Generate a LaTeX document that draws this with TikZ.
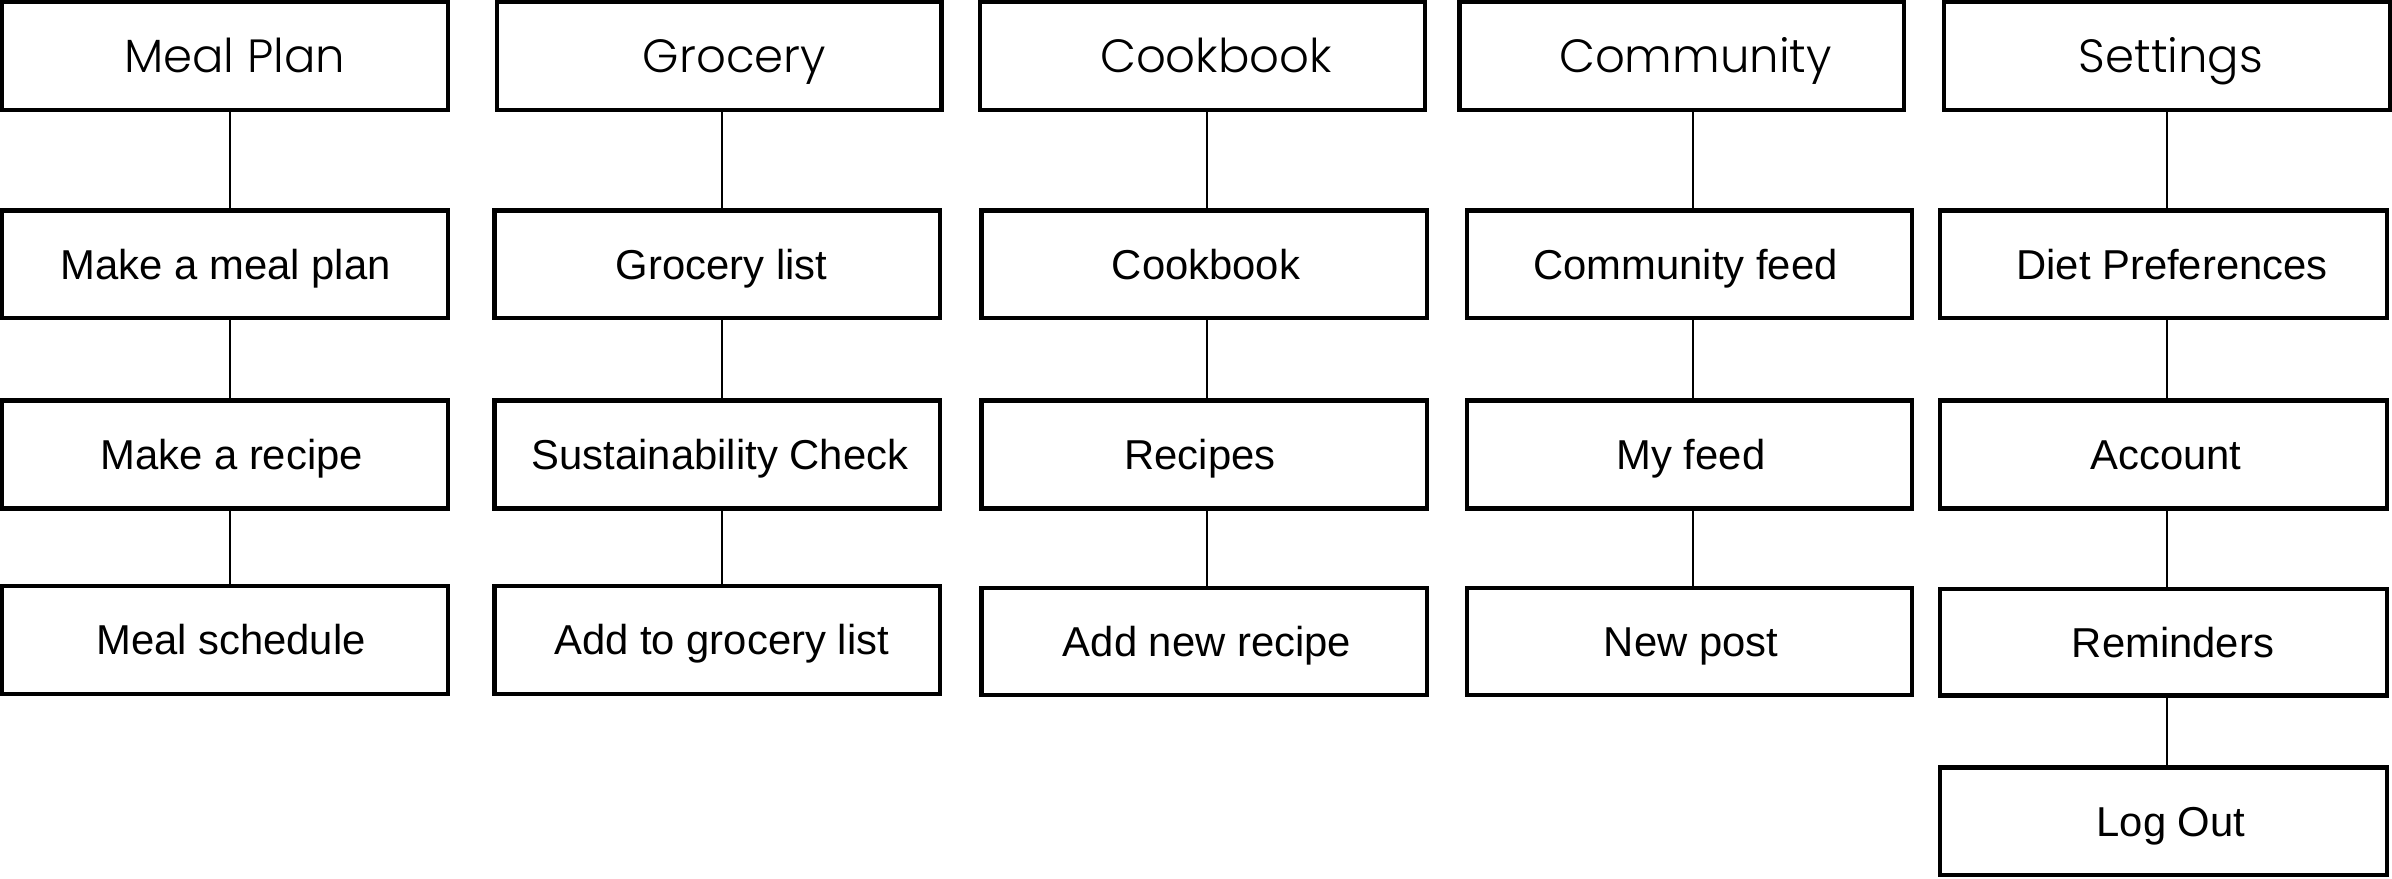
\documentclass[tikz,border=0pt]{standalone}
\usepackage{fontspec}
\setmainfont{Liberation Sans}
\newfontfamily\hfont{Poppins Light}
\newcommand\mybx[8]{%
 \pgfmathsetmacro\bw{(#5-#3)*0.5}%
 \pgfmathsetmacro\bh{(#6-#4)*0.5}%
 \pgfmathsetmacro\bcx{(#3+#5)/2}%
 \pgfmathsetmacro\bcy{(#4+#6)/2}%
 \pgfmathsetmacro\tdx{(#8-\bcx)*0.5}%
 \node[#1, minimum width=\bw pt, minimum height=\bh pt,
   label={[#1lab, xshift=\tdx pt]center:#7}] (#2) at (\bcx,\bcy) {};%
}
\begin{document}
\begin{tikzpicture}[x=0.5pt,y=-0.5pt,
  hd/.style={draw=black, line width=2.1pt, inner sep=0pt, outer sep=0pt},
  ch/.style={draw=black, line width=2.1pt, inner sep=0pt, outer sep=0pt},
  hdlab/.style={font=\hfont\fontsize{23.3}{28}\selectfont, inner sep=0pt, outer sep=0pt, text height=16.5pt, text depth=0pt},
  chlab/.style={font=\fontsize{20.9}{24}\selectfont, inner sep=0pt, outer sep=0pt, text height=14.9pt, text depth=0pt},
  thick conn/.style={draw=black, line width=1.4pt},
  thin conn/.style={draw=black, line width=1pt}]
\useasboundingbox (0,0) rectangle (2392,878);
% column 1
\mybx{hd}{mp}{2}{2}{448}{110}{Meal Plan}{234.7}
\mybx{ch}{mp1}{2}{210.5}{448}{318}{Make a meal plan}{225.8}
\mybx{ch}{mp2}{2}{400.5}{448}{508.5}{Make a recipe}{231.7}
\mybx{ch}{mp3}{2}{586}{448}{694}{Meal schedule}{231}
% column 2
\mybx{hd}{gr}{497}{2}{941.5}{110}{Grocery}{734.5}
\mybx{ch}{gr1}{494.5}{210.5}{940}{318}{Grocery list}{721.5}
\mybx{ch}{gr2}{494.5}{400.5}{940}{508.5}{Sustainability Check}{720}
\mybx{ch}{gr3}{494.5}{586}{940}{694}{Add to grocery list}{721.6}
% column 3
\mybx{hd}{cb}{980}{2}{1425}{110}{Cookbook}{1216}
\mybx{ch}{cb1}{981.5}{210.5}{1427}{318}{Cookbook}{1206}
\mybx{ch}{cb2}{981.5}{400.5}{1427}{508.5}{Recipes}{1200}
\mybx{ch}{cb3}{981.5}{588}{1427}{695}{Add new recipe}{1207}
% column 4
\mybx{hd}{cm}{1459.5}{2}{1904}{110}{Community}{1695.5}
\mybx{ch}{cm1}{1467}{210.5}{1912}{318}{Community feed}{1685.5}
\mybx{ch}{cm2}{1467}{400.5}{1912}{508.5}{My feed}{1691}
\mybx{ch}{cm3}{1467}{588}{1912}{695}{New post}{1691}
% column 5
\mybx{hd}{st}{1944}{2}{2390}{110}{Settings}{2171}
\mybx{ch}{st1}{1940}{210.5}{2387}{318}{Diet Preferences}{2172}
\mybx{ch}{st2}{1940}{400.5}{2387}{508.5}{Account}{2166}
\mybx{ch}{st3}{1940}{589}{2387}{695.5}{Reminders}{2173}
\mybx{ch}{st4}{1940}{767.5}{2387}{875}{Log Out}{2171}
% connector columns
\coordinate (c1) at (230,0);
\coordinate (c2) at (722,0);
\coordinate (c3) at (1207,0);
\coordinate (c4) at (1692.5,0);
\coordinate (c5) at (2167,0);
\draw[thick conn] (mp.south -| c1) -- (mp1.north -| c1);
\draw[thick conn] (mp1.south -| c1) -- (mp2.north -| c1);
\draw[thick conn] (mp2.south -| c1) -- (mp3.north -| c1);
\draw[thick conn] (gr.south -| c2) -- (gr1.north -| c2);
\draw[thick conn] (gr1.south -| c2) -- (gr2.north -| c2);
\draw[thick conn] (gr2.south -| c2) -- (gr3.north -| c2);
\draw[thin conn] (cb.south -| c3) -- (cb1.north -| c3);
\draw[thin conn] (cb1.south -| c3) -- (cb2.north -| c3);
\draw[thin conn] (cb2.south -| c3) -- (cb3.north -| c3);
\draw[thin conn] (cm.south -| c4) -- (cm1.north -| c4);
\draw[thin conn] (cm1.south -| c4) -- (cm2.north -| c4);
\draw[thin conn] (cm2.south -| c4) -- (cm3.north -| c4);
\draw[thin conn] (st.south -| c5) -- (st1.north -| c5);
\draw[thin conn] (st1.south -| c5) -- (st2.north -| c5);
\draw[thin conn] (st2.south -| c5) -- (st3.north -| c5);
\draw[thin conn] (st3.south -| c5) -- (st4.north -| c5);
\end{tikzpicture}
\end{document}
